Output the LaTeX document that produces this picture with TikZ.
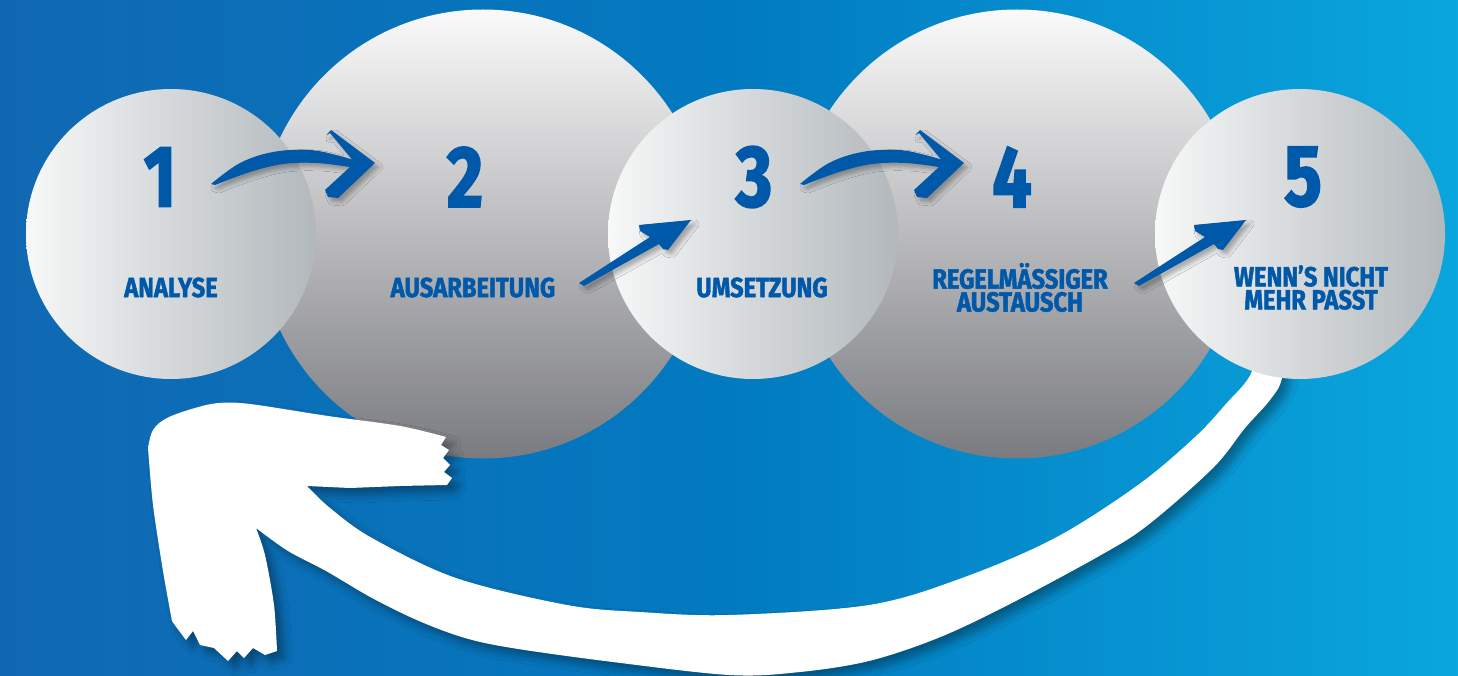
\documentclass[tikz,border=0pt]{standalone}
\usepackage{fontspec}
\usetikzlibrary{shadows.blur}
\newfontfamily\numfont{Fira Sans}[FakeStretch=0.8, FakeBold=2.2]
\newfontfamily\labfont{Fira Sans}[FakeStretch=0.86, FakeBold=1.6]
\definecolor{bgL}{RGB}{16,104,178}
\definecolor{bgM}{RGB}{2,122,192}
\definecolor{bgR}{RGB}{10,166,222}
\definecolor{ink}{RGB}{0,88,168}
\definecolor{smallL}{RGB}{247,248,248}
\definecolor{smallR}{RGB}{178,184,188}
\definecolor{bigT}{RGB}{250,250,250}
\definecolor{bigB}{RGB}{122,123,128}
\tikzset{
  bigcirc/.style={circle, inner sep=0pt, minimum size=449pt, top color=bigT, bottom color=bigB},
  smallcirc/.style={circle, inner sep=0pt, minimum size=290pt, left color=smallL, right color=smallR},
  numtxt/.style={text=ink, font=\numfont\bfseries\fontsize{87pt}{87pt}\selectfont, inner sep=0pt},
  labtxt/.style={text=ink, font=\labfont\bfseries\fontsize{27.6pt}{23pt}\selectfont, inner sep=0pt, align=center},
  bluebrush/.style={fill=ink, blur shadow={shadow xshift=4pt, shadow yshift=-4pt, shadow opacity=30, shadow blur radius=4pt}},
  whitebrush/.style={fill=white, blur shadow={shadow xshift=7pt, shadow yshift=-7pt, shadow opacity=35, shadow blur radius=8pt}}
}
\begin{document}
\begin{tikzpicture}[x=1pt, y=-1pt]
\useasboundingbox (0,0) rectangle (1458,676);
\shade[left color=bgL, right color=bgR, middle color=bgM] (0,0) rectangle (1458,676);
% big circles
\node[bigcirc] (c2) at (483,234) {};
\node[bigcirc] (c4) at (1017,234) {};
% white return arrow
\fill[whitebrush]
 plot[smooth, tension=0.55] coordinates {(1249,330) (1252,371) (1225,405) (1194,438) (1138,485) (1055,538) (962,578) (869,605) (729,615) (640,612) (567,605) (456,578) (372,538) (330,508) (307,486)}
 -- (350,488) -- (400,486) -- (447,485) -- (452,478) -- (444,472) -- (450,465) -- (443,458) -- (449,450) -- (441,445) -- (446,437)
 -- plot[smooth, tension=0.55] coordinates {(446,437) (400,426) (328,416) (250,404) (219,403) (195,408) (167,418) (153,430) (148,448)}
 -- plot[smooth, tension=0.5] coordinates {(148,448) (153,505) (163,571) (172,621)}
 -- (177,628) -- (186,640) -- (193,631) -- (200,645) -- (214,648) -- (228,661) -- (237,651) -- (244,658) -- (253,648) -- (265,655) -- (277,651)
 -- plot[smooth, tension=0.5] coordinates {(277,651) (274,605) (265,555) (256,528)}
 -- plot[smooth, tension=0.55] coordinates {(256,528) (288,551) (326,571) (372,598) (419,621) (465,638) (512,648) (605,661) (729,675) (800,672) (869,661) (938,638) (1008,605) (1101,555) (1148,525) (1213,468) (1245,428) (1270,400) (1282,378) (1286,330)}
 -- cycle;
% small circles
\node[smallcirc] (c1) at (171,234) {};
\node[smallcirc] (c3) at (753,234) {};
\node[smallcirc] (c5) at (1300,234) {};
% curved blue arrows
\foreach \dx in {0,589}{
  \begin{scope}[xshift=\dx]
  \fill[bluebrush]
    plot[smooth, tension=0.6] coordinates {(211,184) (240,163) (273,152) (310,150) (340,156) (356,161)}
    -- (355,163) -- (330,133) -- (326,135) -- (331,130) -- (375,163) -- (338,198) -- (328,197) -- (325,190) -- (350,167)
    -- plot[smooth, tension=0.6] coordinates {(350,167) (317,163) (283,164) (250,172) (215,185)}
    -- cycle;
  \end{scope}
}
% straight blue arrows
\foreach \dx in {0,555}{
  \begin{scope}[xshift=\dx]
  \fill[bluebrush] (579,283) -- (650,237) -- (640,231) -- (639,225) -- (691,220) -- (668,250) -- (663,249) -- (659,244) -- (584,286) -- cycle;
  \end{scope}
}
% numbers
\node[numtxt] (n1) at (160,177) {1};
\node[numtxt] (n2) at (465,177) {2};
\node[numtxt] (n3) at (754,177) {3};
\node[numtxt] (n4) at (1012,177) {4};
\node[numtxt] (n5) at (1303,177) {5};
% labels
\node[labtxt] (l1) at (171,287.5) {ANALYSE};
\node[labtxt] (l2) at (473,287.5) {AUSARBEITUNG};
\node[labtxt] (l3) at (762,287.5) {UMSETZUNG};
\node[labtxt] (l4) at (1020,287.5) {REGELMÄSSIGER\\AUSTAUSCH};
\node[labtxt] (l5) at (1311,287.5) {WENN’S NICHT\\MEHR PASST};
\end{tikzpicture}
\end{document}
